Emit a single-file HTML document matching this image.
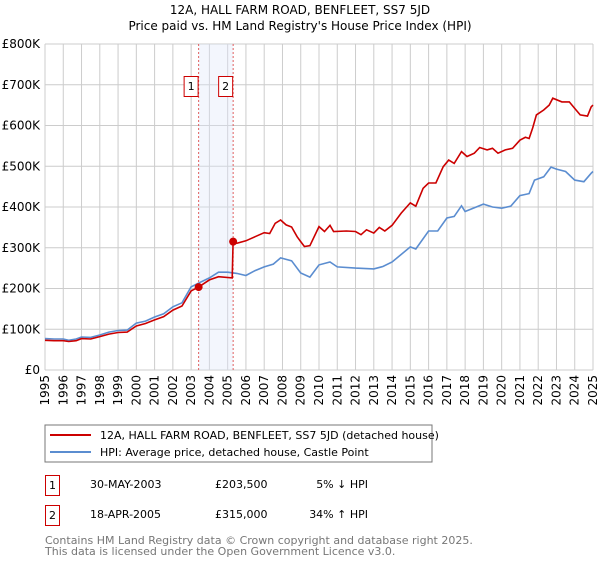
<!DOCTYPE html>
<html><head><meta charset="utf-8">
<style>
body{margin:0;background:#fff;font-family:"DejaVu Sans","Liberation Sans",sans-serif;}
svg text{font-family:"DejaVu Sans","Liberation Sans",sans-serif;}
</style></head>
<body>
<svg width="600" height="560" viewBox="0 0 600 560" xmlns="http://www.w3.org/2000/svg">
<text x="300" y="14" text-anchor="middle" font-size="12">12A, HALL FARM ROAD, BENFLEET, SS7 5JD</text>
<text x="300" y="30" text-anchor="middle" font-size="12">Price paid vs. HM Land Registry's House Price Index (HPI)</text>
<g id="grid"></g>
<g id="bands"></g>
<g id="series"></g>
<g id="axes"></g>
<rect x="45" y="425" width="387" height="37" fill="#fff" stroke="#777"/>
<line x1="50" y1="435" x2="91" y2="435" stroke="#cc0000" stroke-width="2"/>
<text x="100" y="439" font-size="11">12A, HALL FARM ROAD, BENFLEET, SS7 5JD (detached house)</text>
<line x1="50" y1="452" x2="91" y2="452" stroke="#5b8dd0" stroke-width="2"/>
<text x="100" y="456" font-size="11">HPI: Average price, detached house, Castle Point</text>
<rect x="45.5" y="475.5" width="14" height="20" fill="#fff" stroke="#cc0000"/>
<text x="52.5" y="489" font-size="11" text-anchor="middle">1</text>
<text x="90" y="488" font-size="11">30-MAY-2003</text>
<text x="215" y="488" font-size="11">£203,500</text>
<text x="368" y="488" font-size="11" text-anchor="end">5% ↓ HPI</text>
<rect x="45.5" y="505.5" width="14" height="20" fill="#fff" stroke="#cc0000"/>
<text x="52.5" y="519" font-size="11" text-anchor="middle">2</text>
<text x="90" y="518" font-size="11">18-APR-2005</text>
<text x="215" y="518" font-size="11">£315,000</text>
<text x="368" y="518" font-size="11" text-anchor="end">34% ↑ HPI</text>
<text x="45" y="544" font-size="11" fill="#777">Contains HM Land Registry data © Crown copyright and database right 2025.</text>
<text x="45" y="555" font-size="11" fill="#777">This data is licensed under the Open Government Licence v3.0.</text>
</svg>
<script>
const yTicks=[0,100,200,300,400,500,600,700,800];
const yTickLabels=["£0","£100K","£200K","£300K","£400K","£500K","£600K","£700K","£800K"];
const xYears=[1995,1996,1997,1998,1999,2000,2001,2002,2003,2004,2005,2006,2007,2008,2009,2010,2011,2012,2013,2014,2015,2016,2017,2018,2019,2020,2021,2022,2023,2024,2025];
const hpiT=[1995,1995.5,1996,1996.3,1996.7,1997,1997.5,1998,1998.5,1999,1999.5,2000,2000.5,2001,2001.5,2002,2002.5,2003,2003.4,2004,2004.5,2005,2005.5,2006,2006.5,2007,2007.5,2007.9,2008.5,2009,2009.5,2010,2010.6,2011,2012,2013,2013.5,2014,2015,2015.3,2016,2016.5,2017,2017.4,2017.8,2018,2019,2019.5,2020,2020.5,2021,2021.5,2021.8,2022.3,2022.7,2023,2023.5,2024,2024.5,2024.9,2025];
const hpiV=[77,76,76,73,76,81,80,86,93,97,98,115,120,130,138,155,165,204,213,226,240,240,237,232,244,253,260,275,268,238,228,258,265,253,250,248,254,265,302,297,341,341,373,377,403,389,407,400,397,402,428,433,466,474,498,493,487,466,462,483,487];
const redT=[1995,1995.5,1996,1996.3,1996.7,1997,1997.5,1998,1998.5,1999,1999.5,2000,2000.5,2001,2001.5,2002,2002.5,2003,2003.41,2004,2004.5,2005.25,2005.3,2005.5,2006,2006.5,2007,2007.3,2007.6,2007.9,2008.2,2008.5,2008.8,2009,2009.2,2009.5,2010,2010.3,2010.6,2010.8,2011.5,2012,2012.3,2012.6,2013,2013.3,2013.6,2014,2014.5,2015,2015.3,2015.7,2016,2016.4,2016.8,2017.1,2017.4,2017.8,2018.1,2018.5,2018.8,2019.2,2019.5,2019.8,2020.2,2020.6,2021,2021.3,2021.5,2021.7,2021.9,2022.3,2022.6,2022.8,2023.3,2023.7,2024,2024.3,2024.7,2024.9,2025];
const redV=[73,72,72,70,72,77,76,82,88,92,93,108,114,123,131,147,157,194,203.5,221,229,226,315,311,317,327,337,335,360,368,356,351,327,315,303,305,352,340,355,340,341,340,332,344,336,350,341,355,385,410,402,446,459,459,499,515,507,536,524,532,546,540,544,532,540,544,564,571,568,594,626,638,650,667,658,658,642,626,623,646,650];
const sales=[{n:"1",t:2003.41,v:203.5},{n:"2",t:2005.3,v:315}];
const NS="http://www.w3.org/2000/svg";
const X0=45,X1=593,Y0=370,Y1=44;
const xs=t=>X0+(t-1995)/30*(X1-X0);
const ys=v=>Y0-v/800*(Y0-Y1);
function mk(tag,attrs,parent){const e=document.createElementNS(NS,tag);for(const k in attrs)e.setAttribute(k,attrs[k]);document.getElementById(parent).appendChild(e);return e;}
yTicks.forEach((v,i)=>{
 const l=mk('line',{x1:X0,x2:X1,y1:ys(v),y2:ys(v),stroke:'#ccc','stroke-width':1},'grid');
 
 
 const t=mk('text',{x:40,y:ys(v)+4,'text-anchor':'end','font-size':12},'axes');
 t.textContent=yTickLabels[i];
 
 
});
xYears.forEach(y=>{
 const l=mk('line',{x1:xs(y),x2:xs(y),y1:Y1,y2:Y0,stroke:'#ccc','stroke-width':1},'grid');
 
 
 const t=mk('text',{x:0,y:0,'font-size':12,'text-anchor':'end',transform:`translate(${xs(y)+4},375) rotate(-90)`},'axes');
 t.textContent=String(y);
 
 
});
const band=mk('rect',{x:xs(sales[0].t),y:Y1,width:xs(sales[1].t)-xs(sales[0].t),height:Y0-Y1,fill:'#dce6fa','fill-opacity':0.35},'bands');


sales.forEach(s=>{
 const l=mk('line',{x1:xs(s.t),x2:xs(s.t),y1:Y1,y2:Y0,stroke:'#e06060','stroke-dasharray':'2,2','stroke-width':1},'bands');
 
 
 const r=mk('rect',{x:xs(s.t)-14.5,y:76.5,width:14,height:20,fill:'#fff',stroke:'#cc0000'},'bands');
 
 
 const t=mk('text',{x:xs(s.t)-7.5,y:90,'font-size':11,'text-anchor':'middle'},'bands');
 t.textContent=s.n;
 
 
});
const pts=(T,V)=>T.map((t,i)=>xs(t).toFixed(1)+','+ys(V[i]).toFixed(1)).join(' ');
const hp=mk('polyline',{points:pts(hpiT,hpiV),fill:'none',stroke:'#5b8dd0','stroke-width':1.6},'series');


const rp=mk('polyline',{points:pts(redT,redV),fill:'none',stroke:'#cc0000','stroke-width':1.6},'series');


sales.forEach(s=>{
 const c=mk('circle',{cx:xs(s.t),cy:ys(s.v),r:4,fill:'#cc0000'},'series');
 
 
});
</script>
</body></html>
